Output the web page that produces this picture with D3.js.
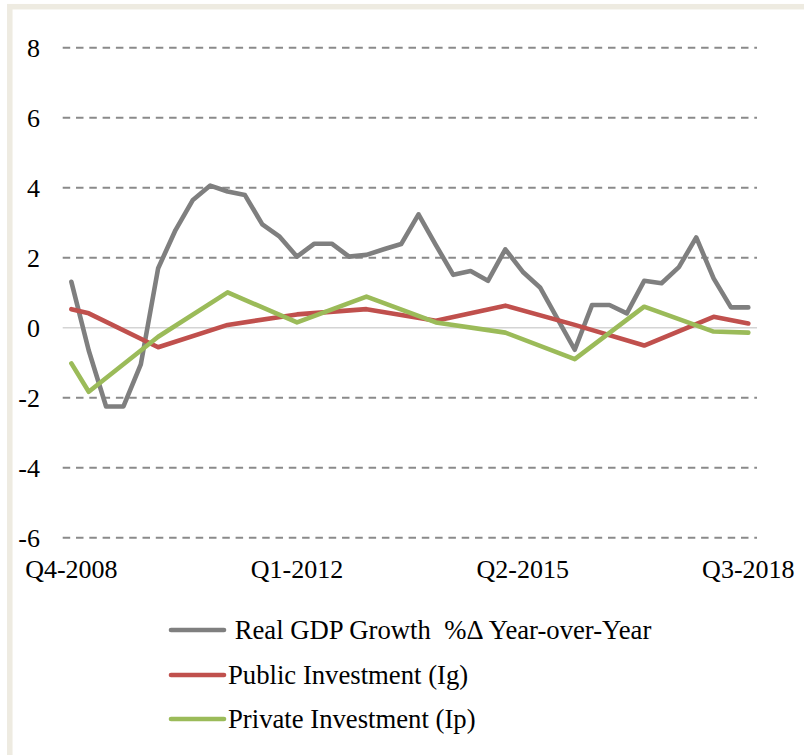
<!DOCTYPE html>
<html>
<head>
<meta charset="utf-8">
<script src="https://cdn.jsdelivr.net/npm/d3@7"></script>
<style>
  body { margin: 0; background: #fff; }
  text { font-family: "Liberation Serif", "Times New Roman", serif; fill: #000; }
</style>
</head>
<body>
<div id="chart"></div>
<script>
// quarterly categories, Q4-2008 .. Q3-2018
const quarters = [
  "Q4-2008",
  "Q1-2009","Q2-2009","Q3-2009","Q4-2009",
  "Q1-2010","Q2-2010","Q3-2010","Q4-2010",
  "Q1-2011","Q2-2011","Q3-2011","Q4-2011",
  "Q1-2012","Q2-2012","Q3-2012","Q4-2012",
  "Q1-2013","Q2-2013","Q3-2013","Q4-2013",
  "Q1-2014","Q2-2014","Q3-2014","Q4-2014",
  "Q1-2015","Q2-2015","Q3-2015","Q4-2015",
  "Q1-2016","Q2-2016","Q3-2016","Q4-2016",
  "Q1-2017","Q2-2017","Q3-2017","Q4-2017",
  "Q1-2018","Q2-2018","Q3-2018"
];
const xTickLabels = ["Q4-2008", "Q1-2012", "Q2-2015", "Q3-2018"];
const yTicks = [-6, -4, -2, 0, 2, 4, 6, 8];

const gdpValues = [
  1.31, -0.65, -2.25, -2.25, -1.05, 1.70, 2.79, 3.65, 4.06, 3.89,
  3.79, 2.95, 2.60, 2.03, 2.40, 2.40, 2.03, 2.08, 2.24, 2.39,
  3.24, 2.36, 1.51, 1.62, 1.34, 2.24, 1.60, 1.15, 0.26, -0.63,
  0.65, 0.65, 0.41, 1.34, 1.27, 1.73, 2.58, 1.41, 0.58, 0.58
];

// investment series only have observations at these quarters
const investQuarters = ["Q4-2008","Q1-2009","Q1-2010","Q1-2011","Q1-2012","Q1-2013",
                        "Q1-2014","Q1-2015","Q1-2016","Q1-2017","Q1-2018","Q3-2018"];
const publicValues  = [0.53, 0.41, -0.56, 0.08, 0.38, 0.53, 0.20, 0.63, 0.08, -0.51, 0.31, 0.12];
const privateValues = [-1.02, -1.83, -0.26, 1.01, 0.15, 0.89, 0.15, -0.14, -0.90, 0.60, -0.11, -0.14];

const seriesNames = [" Real GDP Growth  %\u0394 Year-over-Year", "Public Investment (Ig)", "Private Investment (Ip)"];
const seriesColors = ["#7f7f7f", "#c0504d", "#9bbb59"];

const W = 804, H = 755;
const svg = d3.select("#chart").append("svg")
    .attr("width", W)
    .attr("height", H);

// frame
svg.append("rect")
    .attr("x", 9.8).attr("y", 6.7)
    .attr("width", 1000).attr("height", 1000)
    .attr("fill", "#fff")
    .attr("stroke", "#eeebe1")
    .attr("stroke-width", 5.5);

const x = d3.scaleBand()
    .domain(quarters)
    .range([62.7, 757]);
const cx = q => x(q) + x.bandwidth() / 2;

const y = d3.scaleLinear()
    .domain([-6, 8])
    .range([537.7, 47.7]);

// gridlines
svg.append("g").selectAll("line")
    .data(yTicks)
    .enter().append("line")
    .attr("x1", 62.7).attr("x2", 757)
    .attr("y1", d => y(d)).attr("y2", d => y(d))
    .attr("stroke", d => d === 0 ? "#d4d4d4" : "#8a8a8a")
    .attr("stroke-width", d => d === 0 ? 1.5 : 2)
    .attr("stroke-dasharray", d => d === 0 ? null : "7.5,5.8");

// y axis labels (plain hyphen for negatives)
const yAxis = svg.append("g")
    .attr("transform", "translate(40,0)")
    .call(d3.axisLeft(y).tickValues(yTicks).tickSize(0).tickPadding(0).tickFormat(d => String(d)));
yAxis.select(".domain").remove();
yAxis.selectAll("text")
    .attr("font-size", 26)
    .attr("font-family", "Liberation Serif, Times New Roman, serif")
    .attr("dy", "0.34em");

// x axis labels
const xAxis = svg.append("g")
    .attr("transform", "translate(0,550)")
    .call(d3.axisBottom(x).tickValues(xTickLabels).tickSize(0).tickPadding(0));
xAxis.select(".domain").remove();
xAxis.selectAll("text")
    .attr("font-size", 26)
    .attr("font-family", "Liberation Serif, Times New Roman, serif")
    .attr("y", 0)
    .attr("dy", "1.08em");

const line = d3.line()
    .x(d => cx(d[0]))
    .y(d => y(d[1]));

const seriesData = [
    d3.zip(quarters, gdpValues),
    d3.zip(investQuarters, publicValues),
    d3.zip(investQuarters, privateValues)
];

svg.append("g").selectAll("path")
    .data(seriesData)
    .enter().append("path")
    .attr("d", line)
    .attr("fill", "none")
    .attr("stroke", (d, i) => seriesColors[i])
    .attr("stroke-width", 4.6)
    .attr("stroke-linejoin", "round")
    .attr("stroke-linecap", "round");

// legend
const legendY = [630, 675, 719];
const lg = svg.append("g").selectAll("g")
    .data(seriesNames)
    .enter().append("g")
    .attr("transform", (d, i) => "translate(0," + legendY[i] + ")");
lg.append("line")
    .attr("x1", 171).attr("x2", 224)
    .attr("y1", 0).attr("y2", 0)
    .attr("stroke", (d, i) => seriesColors[i])
    .attr("stroke-width", 4.6)
    .attr("stroke-linecap", "round");
lg.append("text")
    .attr("x", 228)
    .attr("y", 0)
    .attr("dy", "0.33em")
    .attr("font-size", 26.7)
    .style("white-space", "pre")
    .text(d => d);
</script>
</body>
</html>
